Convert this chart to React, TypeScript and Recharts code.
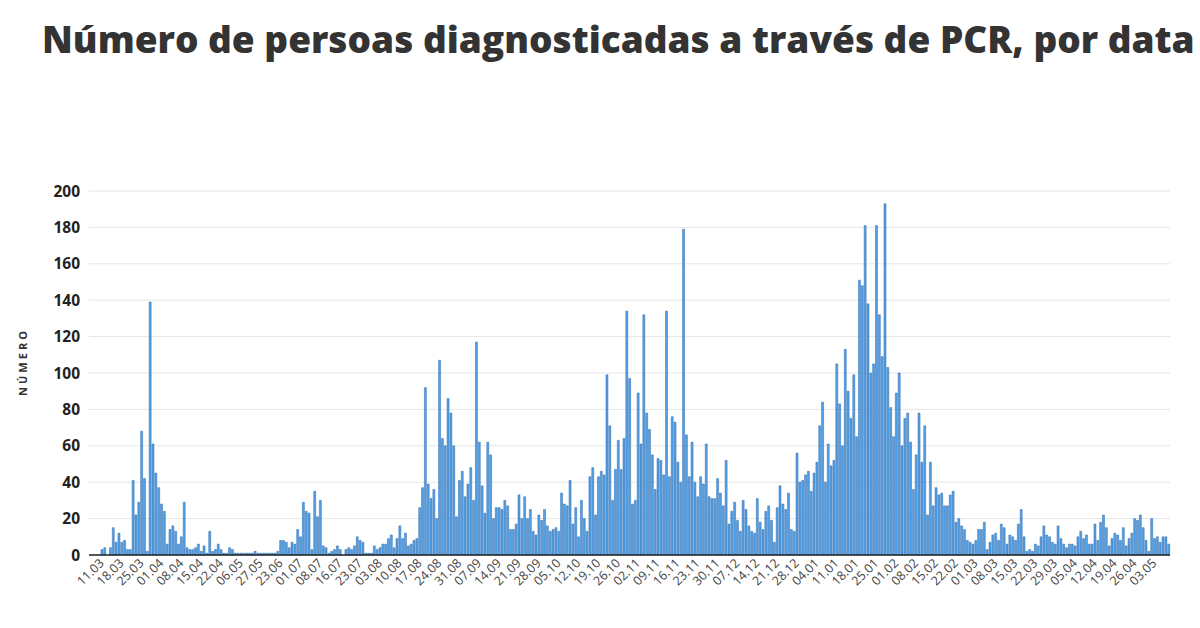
import React from 'react';
import { BarChart, Bar, XAxis, YAxis, CartesianGrid } from 'recharts';

// Daily PCR diagnoses (one bar per reported day)
const values: number[] = [
  0, 0, 0, 0, 3, 4, 0, 4, 15, 7, 12, 7, 8, 3, 3, 41, 22, 29, 68, 42,
  2, 139, 61, 45, 37, 28, 24, 6, 14, 16, 13, 6, 10, 29, 4, 3, 3, 4, 6, 2,
  5, 1, 13, 2, 3, 6, 3, 1, 1, 4, 3, 1, 1, 1, 1, 1, 1, 1, 2, 1,
  1, 1, 1, 1, 1, 1, 2, 8, 8, 7, 4, 7, 6, 14, 10, 29, 24, 23, 3, 35,
  21, 30, 5, 4, 1, 2, 3, 5, 3, 0, 3, 4, 3, 5, 10, 8, 7, 1, 1, 1,
  5, 3, 4, 6, 6, 9, 11, 4, 9, 16, 9, 12, 5, 6, 8, 9, 26, 37, 92, 39,
  31, 36, 20, 107, 64, 60, 86, 78, 60, 21, 41, 46, 32, 39, 48, 30, 117, 62, 38, 23,
  62, 55, 20, 26, 26, 25, 30, 27, 14, 14, 17, 33, 20, 32, 20, 25, 13, 11, 22, 19,
  25, 16, 13, 14, 15, 13, 34, 28, 27, 41, 17, 26, 10, 30, 20, 13, 43, 48, 22, 43,
  46, 44, 99, 71, 30, 47, 63, 47, 64, 134, 97, 28, 30, 89, 61, 132, 78, 69, 55, 36,
  53, 52, 44, 134, 43, 76, 73, 51, 40, 179, 66, 43, 62, 40, 32, 43, 39, 61, 32, 31,
  31, 42, 34, 27, 52, 17, 24, 29, 19, 13, 30, 25, 16, 13, 12, 31, 18, 14, 24, 27,
  19, 7, 26, 38, 28, 25, 34, 14, 13, 56, 40, 41, 44, 46, 35, 45, 51, 71, 84, 40,
  61, 49, 52, 105, 83, 60, 113, 90, 75, 99, 65, 151, 148, 181, 138, 100, 105, 181, 132, 109,
  193, 103, 81, 65, 89, 100, 60, 75, 78, 62, 36, 55, 78, 51, 71, 22, 51, 27, 37, 33,
  34, 27, 27, 33, 35, 18, 20, 16, 14, 8, 7, 6, 8, 14, 14, 18, 3, 7, 11, 12,
  8, 17, 15, 6, 11, 10, 8, 17, 25, 10, 2, 3, 2, 6, 5, 10, 16, 11, 10, 7,
  6, 16, 9, 6, 4, 6, 6, 5, 10, 13, 9, 11, 6, 6, 17, 8, 18, 22, 15, 5,
  9, 12, 11, 8, 15, 5, 9, 12, 20, 19, 22, 15, 8, 2, 20, 9, 10, 7, 10, 10,
  6,
];

// Date labels shown on the x axis (one every seventh bar)
const tickLabels: string[] = [
  '11.03', '18.03', '25.03', '01.04', '08.04', '15.04', '22.04', '06.05', '27.05', '23.06',
  '01.07', '08.07', '16.07', '23.07', '03.08', '10.08', '17.08', '24.08', '31.08', '07.09',
  '14.09', '21.09', '28.09', '05.10', '12.10', '19.10', '26.10', '02.11', '09.11', '16.11',
  '23.11', '30.11', '07.12', '14.12', '21.12', '28.12', '04.01', '11.01', '18.01', '25.01',
  '01.02', '08.02', '15.02', '22.02', '01.03', '08.03', '15.03', '22.03', '29.03', '05.04',
  '12.04', '19.04', '26.04', '03.05',
];
const FIRST_TICK = 3;
const TICK_STEP = 7;

const yTicks: number[] = [0, 20, 40, 60, 80, 100, 120, 140, 160, 180, 200];

const data = values.map((v, i) => ({ idx: i, value: v }));
const tickIdx = tickLabels.map((_, k) => FIRST_TICK + k * TICK_STEP);
const labelMap: Record<number, string> = {};
tickLabels.forEach((l, k) => {
  labelMap[FIRST_TICK + k * TICK_STEP] = l;
});

const FONT = '"Open Sans", "DejaVu Sans", sans-serif';

const XTick = (props: any) => {
  const { x, y, payload } = props;
  const label = labelMap[payload.value];
  if (!label) return null;
  return (
    <g transform={`translate(${x + 3},${y + 4})`}>
      <text
        x={0}
        y={0}
        dy={4}
        textAnchor="end"
        transform="rotate(-45)"
        fontSize={12.5}
        fontFamily={FONT}
        fill="#444"
      >
        {label}
      </text>
    </g>
  );
};

export default function App() {
  return (
    <div
      style={{
        position: 'absolute',
        left: 0,
        top: 0,
        width: 1200,
        height: 628,
        background: '#fff',
        overflow: 'hidden',
      }}
    >
      <div
        style={{
          position: 'absolute',
          left: 42,
          top: 13,
          whiteSpace: 'nowrap',
          fontFamily: FONT,
          fontWeight: 800,
          fontSize: 37,
          color: '#333',
          letterSpacing: 0,
        }}
      >
        Número de persoas diagnosticadas a través de PCR, por data
      </div>
      <div
        style={{
          position: 'absolute',
          left: 22,
          top: 362,
          transform: 'translate(-50%, -50%) rotate(-90deg)',
          fontFamily: FONT,
          fontWeight: 700,
          fontSize: 11,
          letterSpacing: 3,
          color: '#333',
          whiteSpace: 'nowrap',
        }}
      >
        NÚMERO
      </div>
      <div style={{ position: 'absolute', left: 0, top: 0 }}>
        <BarChart
          width={1200}
          height={628}
          data={data}
          margin={{ top: 191, right: 30, bottom: 0, left: 0 }}
          barCategoryGap="20%"
        >
          <CartesianGrid vertical={false} stroke="#e6e6e6" />
          <XAxis
            dataKey="idx"
            type="category"
            ticks={tickIdx}
            interval={0}
            tick={<XTick />}
            tickLine={false}
            tickSize={0}
            height={73}
            axisLine={{ stroke: '#222', strokeWidth: 1.5 }}
          />
          <YAxis
            domain={[0, 200]}
            ticks={yTicks}
            interval={0}
            width={89}
            axisLine={false}
            tickLine={false}
            tickSize={0}
            tickMargin={9}
            tick={{ fontSize: 15.5, fontWeight: 700, fill: '#222', fontFamily: FONT }}
          />
          <Bar
            dataKey="value"
            fill="#55a0e3"
            stroke="#2c6db2"
            strokeWidth={0.5}
            isAnimationActive={false}
          />
        </BarChart>
      </div>
    </div>
  );
}
